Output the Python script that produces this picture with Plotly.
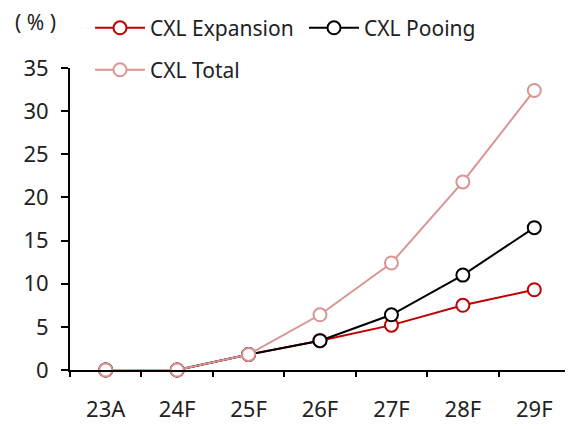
import plotly.graph_objects as go

categories = ["23A", "24F", "25F", "26F", "27F", "28F", "29F"]
expansion = [0.0, 0.0, 1.8, 3.4, 5.2, 7.5, 9.3]
pooling = [0.0, 0.0, 1.8, 3.4, 6.4, 11.0, 16.5]
total = [0.0, 0.0, 1.8, 6.4, 12.4, 21.8, 32.4]
y_ticks = [0, 5, 10, 15, 20, 25, 30, 35]

FONT = "Noto Sans"
FS = 21
TFS = 22
fig = go.Figure()

def add(name, vals, color, legend):
    fig.add_trace(go.Scatter(
        x=categories, y=vals, name=name, mode="lines+markers",
        line=dict(color=color, width=2),
        marker=dict(symbol="circle", size=13, color="white",
                    line=dict(color=color, width=2)),
        legend=legend, cliponaxis=False,
    ))

add("CXL Expansion", expansion, "#C00000", "legend")
add("CXL Pooing", pooling, "#000000", "legend")
add("CXL Total", total, "#D99594", "legend2")

fig.update_layout(
    width=565, height=421,
    margin=dict(l=62, r=3, t=60, b=59, autoexpand=False),
    paper_bgcolor="white", plot_bgcolor="white",
    font=dict(family=FONT, size=FS, color="#222222"),
    showlegend=True,
    legend=dict(orientation="h", x=0.04, y=1.132, xanchor="left", yanchor="middle",
                entrywidth=149, itemwidth=50, font=dict(size=FS),
                bgcolor="rgba(0,0,0,0)", traceorder="normal"),
    legend2=dict(orientation="h", x=0.04, y=0.993, xanchor="left", yanchor="middle",
                 itemwidth=50, font=dict(size=FS), bgcolor="rgba(0,0,0,0)"),
    xaxis=dict(type="category", range=[-0.5, 6.5], showline=True, linecolor="black",
               linewidth=2, ticks="outside", tickson="boundaries", ticklen=5,
               tickwidth=2, tickcolor="black", showgrid=False, zeroline=False,
               ticklabelstandoff=19, tickfont=dict(size=TFS)),
    yaxis=dict(range=[0, 35], tickvals=y_ticks, showline=True, linecolor="black",
               linewidth=2, ticks="outside", ticklen=7, tickwidth=2, tickcolor="black",
               showgrid=False, zeroline=False, ticklabelstandoff=8,
               tickfont=dict(size=TFS)),
    annotations=[dict(text="( % )", xref="paper", yref="paper", x=-0.115, y=1.152,
                      xanchor="left", yanchor="middle", showarrow=False,
                      font=dict(size=FS))],
)

fig.write_html("out.html")
